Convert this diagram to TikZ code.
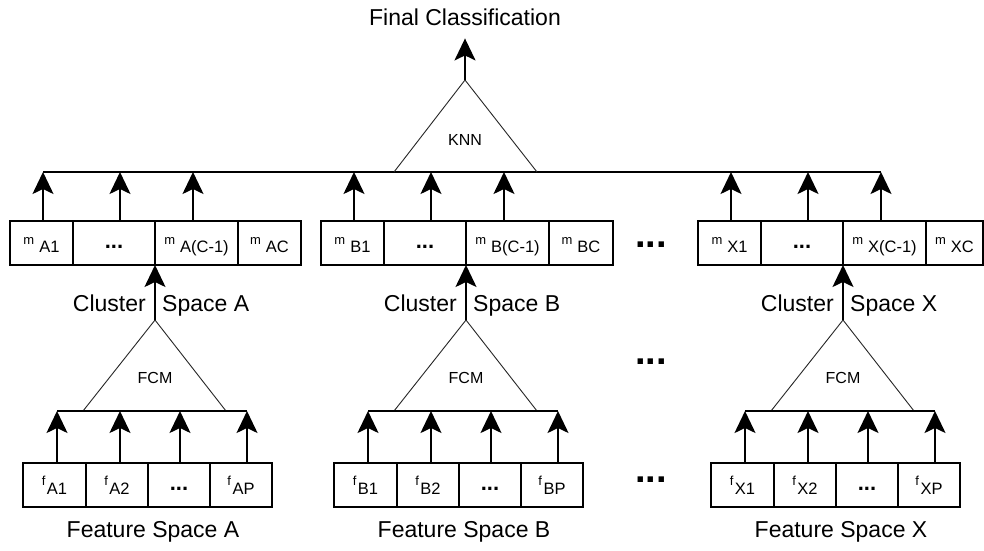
\documentclass[tikz,border=0pt]{standalone}
\usepackage{fontspec}
\setmainfont{Liberation Sans}
\usetikzlibrary{arrows.meta}

% cell labels: a small raised letter followed by its index
\newcommand\mlab[2]{\raisebox{8pt}{\fontsize{13}{13}\selectfont m}\hspace{5pt}{\fontsize{16.5}{16.5}\selectfont #1#2}}
\newcommand\flab[2]{\raisebox{9pt}{\fontsize{13}{13}\selectfont f}\hspace{1.5pt}{\fontsize{16.5}{16.5}\selectfont #1#2}}
\newcommand\celldots{\raisebox{3.5pt}{\fontsize{22}{22}\selectfont\bfseries ...}}

\tikzset{
  cell/.style={draw, line width=1.8pt, minimum height=44pt, inner sep=0pt, outer sep=0pt,
               text height=18pt, text depth=0pt, anchor=north west},
  arr/.style={line width=1.8pt, -{Stealth[length=22pt, width=21pt, inset=5pt]}},
  bus/.style={line width=1.5pt},
  tri/.style={line width=0.9pt, black!85},
  lbl/.style={inner sep=0pt, font=\fontsize{23}{23}\selectfont},
  opname/.style={inner sep=0pt, font=\fontsize{16}{16}\selectfont},
  bigdots/.style={inner sep=0pt, font=\fontsize{38}{38}\selectfont\bfseries, anchor=base}
}

% one feature space with its FCM stage and cluster space
% #1 letter, #2 horizontal offset, #3 width of the last membership cell
\newcommand\spacegroup[3]{%
\begin{scope}[shift={(#2,0)}]
  % membership cells
  \node[cell, minimum width=63pt] (m#1-1) at (10,221) {\mlab{#1}{1}};
  \node[cell, minimum width=82pt] (m#1-2) at (73,221) {\celldots};
  \node[cell, minimum width=83pt] (m#1-3) at (155,221) {\mlab{#1}{(C-1)}};
  \node[cell, minimum width=#3pt] (m#1-4) at (238,221) {\mlab{#1}{C}};
  % inputs to the KNN bus
  \coordinate (b#1-1) at (43,172);
  \coordinate (b#1-2) at (120,172);
  \coordinate (b#1-3) at (193,172);
  \foreach \k in {1,2,3} \draw[arr] (m#1-\k.north -| b#1-\k) -- (b#1-\k);
  % FCM stage
  \coordinate (fcm#1) at (155,320);
  \coordinate (fl#1) at (83,411);
  \coordinate (fr#1) at (226,411);
  \draw[tri] (fl#1) -- (fcm#1) -- (fr#1);
  \node[opname, anchor=base] (fcmlbl#1) at (155,383) {FCM};
  \draw[arr] (fcm#1) -- (m#1-3.south west);
  \node[lbl, anchor=base east] (cl#1) at (146,311) {Cluster};
  \node[lbl, anchor=base west] (sp#1) at (162,311) {Space #1};
  % feature bus
  \coordinate (g#1-1) at (57,411);
  \coordinate (g#1-2) at (120,411);
  \coordinate (g#1-3) at (180,411);
  \coordinate (g#1-4) at (247,411);
  \draw[bus] (g#1-1) -- (g#1-4);
  % feature cells
  \node[cell, minimum width=63pt] (f#1-1) at (23,463) {\flab{#1}{1}};
  \node[cell, minimum width=62pt] (f#1-2) at (86,463) {\flab{#1}{2}};
  \node[cell, minimum width=62pt] (f#1-3) at (148,463) {\celldots};
  \node[cell, minimum width=62pt] (f#1-4) at (210,463) {\flab{#1}{P}};
  \foreach \k in {1,2,3,4} \draw[arr] (f#1-\k.north -| g#1-\k) -- (g#1-\k);
  \node[lbl, anchor=base] (fs#1) at (153,537) {Feature Space #1};
\end{scope}}

\begin{document}
\begin{tikzpicture}[x=1pt, y=-1pt]
  \fill[white] (0,0) rectangle (984,550);
  \useasboundingbox (0,0) rectangle (984,550);

  \spacegroup{A}{0}{63}
  \spacegroup{B}{311}{64}
  \spacegroup{X}{688}{57}

  % KNN stage
  \draw[bus] (bA-1) -- (bX-3);
  \coordinate (knntop) at (465,80);
  \coordinate (kl) at (394,172);
  \coordinate (kr) at (537,172);
  \draw[tri] (kl) -- (knntop) -- (kr);
  \node[opname, anchor=base] (knn) at (465,145) {KNN};
  \node[lbl, anchor=base, inner ysep=13pt] (final) at (465,25) {Final Classification};
  \draw[arr] (knntop) -- (final.south);

  % further feature spaces
  \node[bigdots] (dots1) at (651,247) {...};
  \node[bigdots] (dots2) at (651,364) {...};
  \node[bigdots] (dots3) at (651,482) {...};
\end{tikzpicture}
\end{document}
